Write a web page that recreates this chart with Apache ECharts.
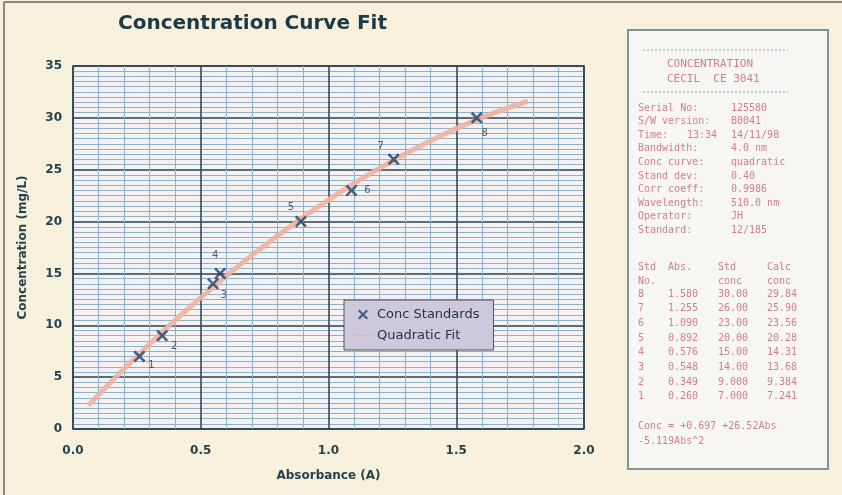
<!DOCTYPE html>
<html><head><meta charset="utf-8">
<script src="https://cdn.jsdelivr.net/npm/echarts@6/dist/echarts.min.js"></script>
<style>html,body{margin:0;padding:0;background:#f7f0dc}#c{width:842px;height:495px}</style>
</head><body><div id="c"></div>
<script>
// ---- data ----
const stdAbs  = [0.260, 0.349, 0.548, 0.576, 0.892, 1.090, 1.255, 1.580];
const stdConc = [7.0, 9.0, 14.0, 15.0, 20.0, 23.0, 26.0, 30.0];
const stdNo   = ['1','2','3','4','5','6','7','8'];
const fitAbs  = [0.06, 0.2, 0.4, 0.6, 0.8, 1.0, 1.2, 1.4, 1.6, 1.78];
const fitConc = [2.27, 5.80, 10.49, 14.77, 18.64, 22.10, 25.15, 27.79, 30.02, 31.6];
const xTicks = [0, 0.5, 1.0, 1.5, 2.0];
const yTicks = [0, 5, 10, 15, 20, 25, 30, 35];
const headerInfo = [
  ['Serial No:', '125580'],
  ['S/W version:', 'B0041'],
  ['Time:', '13:34 14/11/98'],
  ['Bandwidth:', '4.0 nm'],
  ['Conc curve:', 'quadratic'],
  ['Stand dev:', '0.40'],
  ['Corr coeff:', '0.9986'],
  ['Wavelength:', '510.0 nm'],
  ['Operator:', 'JH'],
  ['Standard:', '12/185']
];
const tableHead = [['Std','Abs.','Std','Calc'],['No.','','conc','conc']];
const tableRows = [
  ['8','1.580','30.00','29.84'],
  ['7','1.255','26.00','25.90'],
  ['6','1.090','23.00','23.56'],
  ['5','0.892','20.00','20.28'],
  ['4','0.576','15.00','14.31'],
  ['3','0.548','14.00','13.68'],
  ['2','0.349','9.000','9.384'],
  ['1','0.260','7.000','7.241']
];
const eqLines = ['Conc = +0.697 +26.52Abs', '-5.119Abs^2'];

// ---- styles ----
const labelOffsets = [[12,9],[12,11],[11,12],[-5,-18],[-10,-14],[16,0],[-13,-13],[8,16]];
const dark = '#24434f';
const pink = '#cf7f88';
const sans = '"DejaVu Sans", Verdana, sans-serif';
const mono = '"DejaVu Sans Mono", "Liberation Mono", monospace';
const xPath = 'path://M1.5,0L5,3.5L8.5,0L10,1.5L6.5,5L10,8.5L8.5,10L5,6.5L1.5,10L0,8.5L3.5,5L0,1.5Z';

const chart = echarts.init(document.getElementById('c'));

const graphics = [];
graphics.push({type:'line', shape:{x1:4,y1:2,x2:842,y2:2}, style:{stroke:'#666',lineWidth:1.5}});
graphics.push({type:'line', shape:{x1:4,y1:2,x2:4,y2:495}, style:{stroke:'#666',lineWidth:1.5}});
graphics.push({type:'rect', shape:{x:628,y:30,width:200,height:439}, style:{fill:'#f8f6f3',stroke:'#7c9598',lineWidth:2}});
graphics.push({type:'line', shape:{x1:643,y1:50,x2:788,y2:50}, style:{stroke:'#8fa6c0',lineWidth:1,lineDash:[2,2]}});
graphics.push({type:'line', shape:{x1:643,y1:92,x2:788,y2:92}, style:{stroke:'#8fa6c0',lineWidth:1,lineDash:[2,2]}});
graphics.push({type:'text', left:667, top:59, style:{text:'CONCENTRATION', font:'11px '+mono, fill:pink}});
graphics.push({type:'text', left:667, top:74, style:{text:'CECIL  CE 3041', font:'11px '+mono, fill:pink}});
headerInfo.forEach((r,i)=>{
  const y = 103 + i*13.6;
  graphics.push({type:'text', left:638, top:y, style:{text:r[0], font:'10px '+mono, fill:pink}});
  if (r[0]==='Time:') {
    const parts = r[1].split(' ');
    graphics.push({type:'text', left:687, top:y, style:{text:parts[0], font:'10px '+mono, fill:pink}});
    graphics.push({type:'text', left:731, top:y, style:{text:parts[1], font:'10px '+mono, fill:pink}});
  } else {
    graphics.push({type:'text', left:731, top:y, style:{text:r[1], font:'10px '+mono, fill:pink}});
  }
});
const colX = [638, 668, 718, 767];
tableHead.forEach((r,i)=>{
  r.forEach((t,j)=>{ if(t) graphics.push({type:'text', left:colX[j], top:262+i*14.5, style:{text:t, font:'10px '+mono, fill:pink}}); });
});
tableRows.forEach((r,i)=>{
  r.forEach((t,j)=>{ graphics.push({type:'text', left:colX[j], top:289+i*14.7, style:{text:t, font:'10px '+mono, fill:pink}}); });
});
eqLines.forEach((t,i)=>{
  graphics.push({type:'text', left:638, top:421+i*15, style:{text:t, font:'10px '+mono, fill:pink}});
});

chart.setOption({
  backgroundColor:'#f7f0dc',
  animation:false,
  title:{text:'Concentration Curve Fit', left:113, top:9,
    textStyle:{fontFamily:sans, fontSize:20, fontWeight:'bold', color:'#1d3944'}},
  grid:{left:73, right:258, top:66, bottom:66, show:true, backgroundColor:'#f5f0f1', borderColor:dark, borderWidth:1.5},
  legend:{
    orient:'vertical', left:344, top:300, backgroundColor:'#cdc8dc', borderColor:'#555', borderWidth:1,
    padding:[8,14,8,10], itemGap:8, itemWidth:18, itemHeight:10,
    textStyle:{fontFamily:sans, fontSize:13, color:'#2a2f4a'},
    data:[
      {name:'Conc Standards', icon:xPath, itemStyle:{color:'#1f3d6b'}},
      {name:'Quadratic Fit', icon:'path://M0,4L22,4L22,6L0,6Z', itemStyle:{color:'#eab3a2'}}
    ]
  },
  xAxis:{type:'value', min:0, max:2, interval:0.5,
    name:'Absorbance (A)', nameLocation:'middle', nameGap:41,
    nameTextStyle:{fontFamily:sans, fontSize:12, fontWeight:'bold', color:dark},
    axisLine:{show:false}, axisTick:{show:false},
    axisLabel:{margin:16, fontFamily:sans, fontSize:12, fontWeight:'bold', color:dark,
      formatter:v=> xTicks.indexOf(v)>=0 ? v.toFixed(1) : ''},
    splitLine:{show:true, lineStyle:{color:dark, width:1.5}},
    minorTick:{show:true, splitNumber:5, length:0},
    minorSplitLine:{show:true, lineStyle:{color:'#8db2c8', width:1}}
  },
  yAxis:{type:'value', min:0, max:35, interval:5,
    name:'Concentration (mg/L)', nameLocation:'middle', nameGap:44,
    nameTextStyle:{fontFamily:sans, fontSize:12, fontWeight:'bold', color:dark},
    axisLine:{show:false}, axisTick:{show:false},
    axisLabel:{margin:11, fontFamily:sans, fontSize:12, fontWeight:'bold', color:dark,
      formatter:v=> yTicks.indexOf(v)>=0 ? String(v) : ''},
    splitLine:{show:true, lineStyle:{color:dark, width:1.5}},
    minorTick:{show:true, splitNumber:10, length:0},
    minorSplitLine:{show:true, lineStyle:{color:'#8db2c8', width:1}}
  },
  series:[
    {name:'Quadratic Fit', type:'line', smooth:true, symbol:'none', z:3,
      lineStyle:{color:'#eeb3a0', width:5, opacity:0.9},
      data: fitAbs.map((x,i)=>[x, fitConc[i]])},
    {name:'Conc Standards', type:'scatter', symbol:xPath, symbolSize:12, z:5,
      itemStyle:{color:'#1f3d6b'},
      label:{show:true, position:'inside', color:'#2a3540', fontSize:10, fontFamily:sans,
        formatter:p=>stdNo[p.dataIndex]},
      data: stdAbs.map((x,i)=>({value:[x, stdConc[i]], label:{offset:labelOffsets[i]}}))}
  ],
  graphic: graphics
});
</script></body></html>
